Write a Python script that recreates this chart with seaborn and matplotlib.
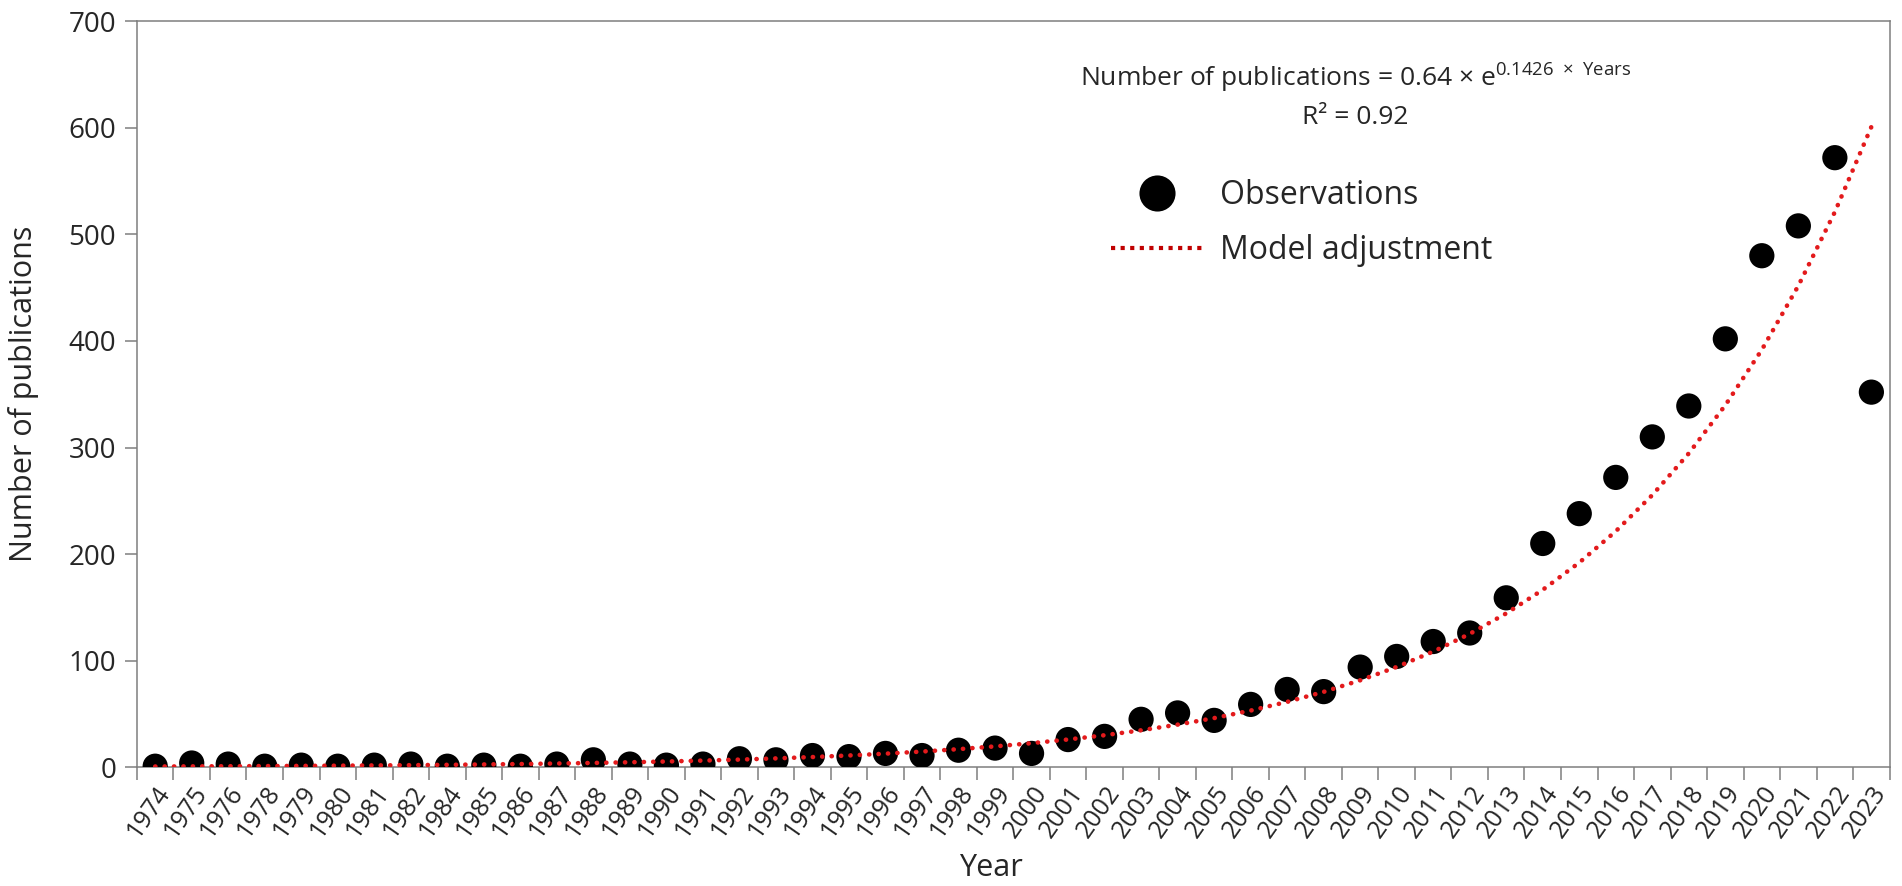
import numpy as np
import pandas as pd
import matplotlib
matplotlib.use("Agg")
import matplotlib.pyplot as plt
import seaborn as sns
from matplotlib.lines import Line2D

# Years present in the data set (1977 and 1983 are absent)
years = ["1974", "1975", "1976", "1978", "1979", "1980", "1981", "1982",
         "1984", "1985", "1986", "1987", "1988", "1989", "1990", "1991",
         "1992", "1993", "1994", "1995", "1996", "1997", "1998", "1999",
         "2000", "2001", "2002", "2003", "2004", "2005", "2006", "2007",
         "2008", "2009", "2010", "2011", "2012", "2013", "2014", "2015",
         "2016", "2017", "2018", "2019", "2020", "2021", "2022", "2023"]

publications = [1, 4, 3, 1, 2, 1, 2, 3,
                1, 2, 1, 3, 7, 3, 2, 3,
                8, 7, 11, 10, 13, 11, 16, 18,
                13, 26, 29, 45, 51, 44, 59, 73,
                71, 94, 104, 118, 126, 159, 210, 238,
                272, 310, 339, 402, 480, 508, 572, 352]

# Model coefficients as printed on the chart
model_a = 0.64
model_b = 0.1426

df = pd.DataFrame({"Year": years, "Publications": publications})
df["Model"] = model_a * np.exp(model_b * (np.arange(len(years)) + 1))

sns.set_theme(style="white")
plt.rcParams["font.family"] = ["Open Sans", "DejaVu Sans"]
plt.rcParams["mathtext.fontset"] = "custom"
plt.rcParams["mathtext.rm"] = "Open Sans"

fig = plt.figure(figsize=(19.02, 8.86), dpi=100)
ax = fig.add_axes([0.072, 0.134, 0.9215, 0.842])

sns.scatterplot(data=df, x="Year", y="Publications", color="black",
                s=330, edgecolor="none", zorder=3, ax=ax, legend=False)
sns.lineplot(data=df, x="Year", y="Model", sort=False, color="#e31a1c",
             linewidth=3.3, linestyle=(0, (0.05, 2.0)), ax=ax, zorder=4,
             legend=False)
for l in ax.lines:
    l.set_dash_capstyle("round")

ax.set_xlim(-0.5, len(years) - 0.5)
ax.set_ylim(0, 700)
ax.set_yticks(range(0, 701, 100))
ax.tick_params(axis="y", labelsize=20, length=9, width=1.1, color="#7f7f7f",
               direction="out", left=True, pad=6)
ax.set_xticks(range(len(years)))
ax.set_xticklabels(years, rotation=55, ha="right", rotation_mode="anchor",
                   fontsize=18)
ax.tick_params(axis="x", length=0, pad=10)
ax.set_xticks(np.arange(-0.5, len(years)), minor=True)
ax.tick_params(axis="x", which="minor", length=9, width=1.1, color="#7f7f7f",
               bottom=True, direction="out")

for sp in ax.spines.values():
    sp.set_color("#7f7f7f")
    sp.set_linewidth(1.1)

ax.set_xlabel("Year", fontsize=22)
ax.xaxis.set_label_coords(0.487, -0.115)
ax.set_ylabel("Number of publications", fontsize=22)
ax.yaxis.set_label_coords(-0.056, 0.5)

# Equation of the fitted model
fig.text(0.7125, 0.913, "Number of publications = 0.64 × e"
         + r"$^{\mathregular{0.1426\ \times\ Years}}$",
         ha="center", va="center", fontsize=19)
fig.text(0.7125, 0.867, "R² = 0.92", ha="center", va="center", fontsize=19)

handles = [
    Line2D([0], [0], marker="o", color="none", markerfacecolor="black",
           markeredgecolor="none", markersize=26, label="Observations"),
    Line2D([0], [0], color="#c00000", linewidth=3.0,
           linestyle=(0, (1.0, 1.3)), label="Model adjustment"),
]
ax.legend(handles=handles, loc="center left", frameon=False,
          bbox_to_anchor=(0.569, 0.748), bbox_transform=fig.transFigure,
          fontsize=23, handlelength=2.9, handletextpad=0.5,
          labelspacing=0.7, borderpad=0.4)

fig.savefig("out.png", dpi=100)
